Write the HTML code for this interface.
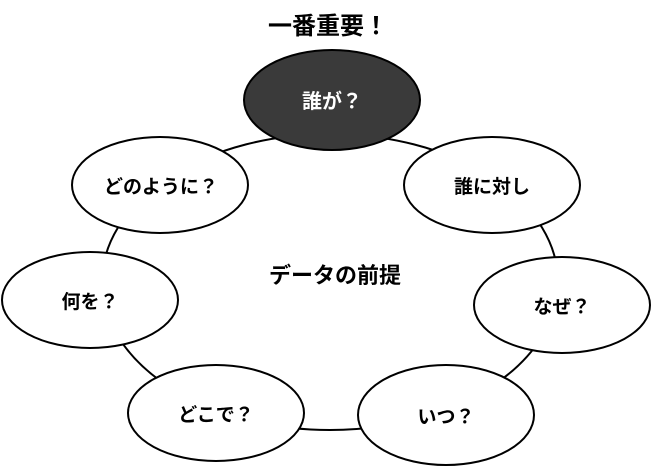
<!DOCTYPE html>
<html><head><meta charset="utf-8"><style>
html,body{margin:0;padding:0;background:#fff;}
svg{display:block;}
text{font-family:"Liberation Sans","Noto Sans CJK JP",sans-serif;font-weight:bold;}
</style></head><body>
<svg width="653" height="473" viewBox="0 0 653 473" xmlns="http://www.w3.org/2000/svg">
<ellipse cx="330" cy="282" rx="228" ry="148" fill="none" stroke="#000" stroke-width="2"/>
<g stroke="#000" stroke-width="2" fill="#fff">
<ellipse cx="332" cy="100" rx="88" ry="50" fill="#3a3a3a"/>
<ellipse cx="160" cy="185" rx="88" ry="48"/>
<ellipse cx="492" cy="185" rx="88" ry="48"/>
<ellipse cx="90" cy="300" rx="88" ry="48"/>
<ellipse cx="562" cy="305" rx="88" ry="48"/>
<ellipse cx="216" cy="413" rx="88" ry="48"/>
<ellipse cx="446" cy="415" rx="88" ry="50"/>
</g>
<g font-size="19" text-anchor="middle">
<text x="328" y="34" font-size="24">一番重要！</text>
<text x="332" y="108" fill="#fff" font-size="20">誰が？</text>
<text x="161" y="193">どのように？</text>
<text x="492" y="193">誰に対し</text>
<text x="90" y="308">何を？</text>
<text x="562" y="313">なぜ？</text>
<text x="216" y="421">どこで？</text>
<text x="446" y="423">いつ？</text>
<text x="335" y="283" font-size="22">データの前提</text>
</g>
</svg>
</body></html>
